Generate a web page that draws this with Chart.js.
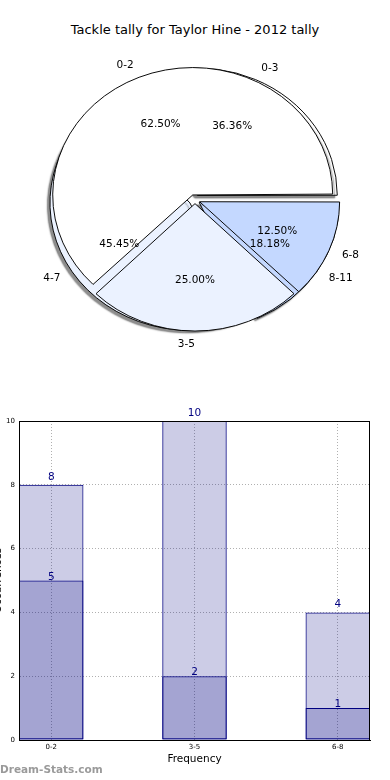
<!DOCTYPE html>
<html>
<head>
<meta charset="utf-8">
<script src="https://cdn.jsdelivr.net/npm/chart.js@4.4.0/dist/chart.umd.min.js"></script>
<style>
  body { margin: 0; background: #fff; width: 390px; height: 780px; overflow: hidden; position: relative; font-family: "DejaVu Sans", sans-serif; }
  canvas { position: absolute; }
  #title { position: absolute; left: 0; top: 21px; width: 390px; text-align: center; font-size: 13px; line-height: 18px; color: #000; }
  #mark { position: absolute; left: 0; top: 762px; font-size: 10.5px; font-weight: bold; color: #9a9a9a; line-height: 14px; }
</style>
</head>
<body>
<div id="title">Tackle tally for Taylor Hine - 2012 tally</div>
<canvas id="pieBack" width="390" height="400" style="left:0;top:0"></canvas>
<canvas id="pieFront" width="390" height="400" style="left:0;top:0"></canvas>
<canvas id="bars" width="398" height="380" style="left:-8px;top:400px"></canvas>
<div id="mark">Dream-Stats.com</div>
<script>
// pie data (two overlaid pies)
const innerCats = ["0-2", "3-5", "6-8"];
const innerVals = [5, 2, 1];
const outerCats = ["0-3", "4-7", "8-11"];
const outerVals = [8, 10, 4];
const sliceColors = ["#ffffff", "#ebf2ff", "#c4d8ff"];

// bar data
const barCats = ["0-2", "3-5", "6-8"];
const barTotals = [8, 10, 4];
const barLower = [5, 2, 1];
const yTicks = [0, 2, 4, 6, 8, 10];

const FONT = "DejaVu Sans";
const R = 140;        // pie radius
const SQUASH = 0.91;  // the pie is a bit flattened
const pies = [];      // both pie charts, labels go on the top canvas

function drawPieLabels(chart, ctx) {
  const ds = chart.data.datasets[0];
  const total = ds.data.reduce((s, v) => s + v, 0);
  chart.getDatasetMeta(0).data.forEach((arc, i) => {
    const h = (arc.startAngle + arc.endAngle) / 2;
    const off = (arc.options.offset || 0) / 4;
    const c = Math.cos(h), s = Math.sin(h);
    const px = (k) => arc.x + c * (off + k * R);
    const py = (k) => arc.y + s * (off + k * R) * SQUASH;
    ctx.textAlign = c > 1e-6 ? "left" : "right";
    ctx.fillText(chart.data.labels[i], px(1.1), py(1.1));
    ctx.textAlign = "center";
    ctx.fillText((ds.data[i] / total * 100).toFixed(2) + "%", px(0.6), py(0.6));
  });
}

// flattens the pie, keeps every wedge at the same radius, labels like matplotlib
const piePlugin = {
  id: "mplPie",
  beforeDatasetsDraw(chart, args, opts) {
    const ctx = chart.ctx;
    const a = chart.chartArea;
    const cx = (a.left + a.right) / 2, cy = (a.top + a.bottom) / 2;
    ctx.save();
    ctx.translate(cx, cy);
    ctx.scale(1, SQUASH);
    ctx.translate(-cx, -cy);
    if (opts.shadow) {
      ctx.shadowColor = "rgba(0,0,0,0.45)";
      ctx.shadowOffsetX = -2.5;
      ctx.shadowOffsetY = 2.5;
      ctx.shadowBlur = 1.5;
    }
    chart.getDatasetMeta(0).data.forEach((arc) => {
      const off = (arc.options.offset || 0) / 4;
      const circ = arc.endAngle - arc.startAngle;
      const fix = 1 - Math.sin(Math.min(Math.PI, circ));
      arc.outerRadius = R - off * fix;
    });
  },
  afterDatasetsDraw(chart) {
    chart.ctx.restore();
  },
  afterDraw(chart, args, opts) {
    if (!opts.labels) return;
    const ctx = chart.ctx;
    ctx.save();
    ctx.font = "10.5px '" + FONT + "'";
    ctx.fillStyle = "#000";
    ctx.textBaseline = "middle";
    pies.forEach((c) => drawPieLabels(c, ctx));
    ctx.restore();
  }
};

function makePie(id, cats, vals, offsets, shadow, labels) {
  const chart = new Chart(document.getElementById(id), {
    type: "pie",
    data: {
      labels: cats.slice().reverse(),
      datasets: [{
        data: vals.slice().reverse(),
        backgroundColor: sliceColors.slice().reverse(),
        borderColor: "#000",
        borderWidth: 1,
        borderJoinStyle: "miter",
        offset: offsets,
        hoverOffset: 0,
        rotation: 90,
        radius: R,
        clip: false
      }]
    },
    options: {
      responsive: false,
      animation: false,
      events: [],
      rotation: 90,
      radius: R,
      layout: { padding: 0 },
      plugins: {
        legend: { display: false },
        tooltip: { enabled: false },
        colors: { enabled: false },
        mplPie: { shadow: shadow, labels: labels }
      }
    },
    plugins: [piePlugin]
  });
  pies.push(chart);
  return chart;
}

// offsets are in reversed slice order: 8-11, 4-7, 0-3 / 6-8, 3-5, 0-2
makePie("pieBack", outerCats, outerVals, [20, 24, 22], true, false);
const frontPie = makePie("pieFront", innerCats, innerVals, [20, 16, 24], false, true);
frontPie.draw();

const valueLabels = {
  id: "valueLabels",
  afterDatasetsDraw(chart, args, opts) {
    const ctx = chart.ctx;
    ctx.save();
    ctx.font = "10.5px '" + FONT + "'";
    ctx.fillStyle = "#000080";
    ctx.textAlign = "center";
    ctx.textBaseline = "alphabetic";
    chart.data.datasets.forEach((ds, di) => {
      chart.getDatasetMeta(di).data.forEach((bar, i) => {
        ctx.fillText(String(ds.data[i].y), bar.x, bar.y - opts.lift[di]);
      });
    });
    ctx.restore();
  }
};

const frame = {
  id: "frame",
  afterDraw(chart) {
    const a = chart.chartArea;
    const ctx = chart.ctx;
    ctx.save();
    ctx.strokeStyle = "#000";
    ctx.lineWidth = 1;
    ctx.strokeRect(Math.round(a.left) + 0.5, Math.round(a.top) + 0.5,
      Math.round(a.right - a.left) - 1, Math.round(a.bottom - a.top));
    ctx.restore();
  }
};

const barStyle = {
  grouped: false,
  barPercentage: 0.45,
  categoryPercentage: 1,
  backgroundColor: "rgba(0,0,128,0.2)",
  borderColor: "#000080",
  borderWidth: 1,
  borderSkipped: false
};

new Chart(document.getElementById("bars"), {
  type: "bar",
  data: {
    datasets: [
      Object.assign({ data: barLower.map((v, i) => ({ x: i, y: v })) }, barStyle),
      Object.assign({ data: barTotals.map((v, i) => ({ x: i, y: v })) }, barStyle)
    ]
  },
  options: {
    responsive: false,
    animation: false,
    events: [],
    layout: { padding: { top: 21, right: 20, left: 0, bottom: 0 } },
    scales: {
      x: {
        type: "linear",
        min: -0.225,
        max: 2.225,
        offset: false,
        afterBuildTicks: (s) => { s.ticks = barCats.map((c, i) => ({ value: i })); },
        afterFit: (s) => { s.height = 40; },
        ticks: { callback: (v) => barCats[v], font: { family: FONT, size: 7 }, color: "#000", padding: 3, maxRotation: 0 },
        grid: { color: "#b0b0b0", drawTicks: false, offset: false },
        border: { color: "#000", dash: [1, 2] },
        title: { display: true, text: "Frequency", color: "#000", font: { family: FONT, size: 10.5 }, padding: { top: 0, bottom: 14 } }
      },
      y: {
        min: 0,
        max: 10,
        afterBuildTicks: (s) => { s.ticks = yTicks.map((v) => ({ value: v })); },
        afterFit: (s) => { s.width = 27; },
        ticks: { font: { family: FONT, size: 7 }, color: "#000", padding: 4 },
        grid: { color: "#b0b0b0", drawTicks: false },
        border: { color: "#000", dash: [1, 2] },
        title: { display: true, text: "Occurrences", color: "#000", font: { family: FONT, size: 10.5 }, padding: { top: 0, bottom: 0 } }
      }
    },
    plugins: {
      legend: { display: false },
      tooltip: { enabled: false },
      colors: { enabled: false },
      valueLabels: { lift: [1, 5] }
    }
  },
  plugins: [valueLabels, frame]
});
</script>
</body>
</html>
